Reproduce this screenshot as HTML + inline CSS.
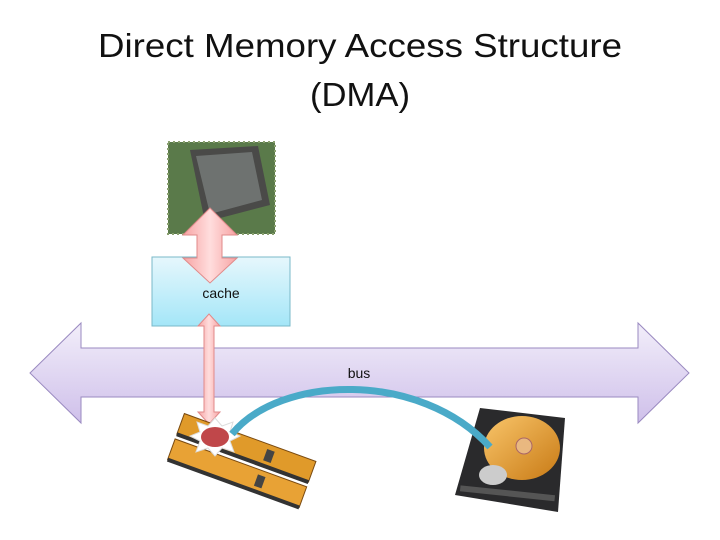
<!DOCTYPE html>
<html><head><meta charset="utf-8"><style>
html,body{margin:0;padding:0;background:#fff;}
svg{display:block;}
</style></head><body>
<svg width="720" height="540" viewBox="0 0 720 540" xmlns="http://www.w3.org/2000/svg">
<defs>
<linearGradient id="bus" x1="0" y1="0" x2="0" y2="1"><stop offset="0" stop-color="#f2eefa"/><stop offset="1" stop-color="#cfc0ea"/></linearGradient>
<linearGradient id="cache" x1="0" y1="0" x2="0" y2="1"><stop offset="0" stop-color="#e6f7fc"/><stop offset="1" stop-color="#a4e6f8"/></linearGradient>
<linearGradient id="red" x1="0" y1="0" x2="1" y2="0"><stop offset="0" stop-color="#f7a3a3"/><stop offset="0.5" stop-color="#fdd"/><stop offset="1" stop-color="#f7a3a3"/></linearGradient>
<linearGradient id="disk" x1="0" y1="0" x2="1" y2="1"><stop offset="0" stop-color="#f9c56a"/><stop offset="1" stop-color="#c87a15"/></linearGradient>
</defs>
<text x="98" y="57" font-family="Liberation Sans, sans-serif" font-size="33" textLength="524" lengthAdjust="spacingAndGlyphs" fill="#111">Direct Memory Access Structure</text>
<text x="310" y="106" font-family="Liberation Sans, sans-serif" font-size="33" textLength="100" lengthAdjust="spacingAndGlyphs" fill="#111">(DMA)</text>
<!-- CPU -->
<rect x="168" y="142" width="107" height="92" fill="#5a7a4a"/>
<rect x="168" y="142" width="107" height="92" fill="none" stroke="#8aa070" stroke-width="2" stroke-dasharray="2 3"/>
<polygon points="190,150 258,146 270,205 205,222" fill="#4a4a48"/>
<polygon points="196,156 252,152 262,200 210,214" fill="#6e7270"/>
<!-- cache -->
<rect x="152" y="257" width="138" height="69" fill="url(#cache)" stroke="#7ab8c8"/>
<text x="221" y="298" font-family="Liberation Sans, sans-serif" font-size="14" text-anchor="middle" fill="#111">cache</text>
<!-- big red double arrow -->
<polygon points="210,208 237,235 222,235 222,258 237,258 210,283 183,258 197,258 197,235 183,235" fill="url(#red)" stroke="#e08a8a"/>
<!-- bus -->
<polygon points="30,373 81,323 81,348 638,348 638,323 689,373 638,423 638,397 81,397 81,423" fill="url(#bus)" stroke="#9a8ac0"/>
<text x="359" y="378" font-family="Liberation Sans, sans-serif" font-size="14" text-anchor="middle" fill="#111">bus</text>
<!-- thin red double arrow -->
<polygon points="209,314 220,326 214,326 214,412 220,412 209,424 198,412 204,412 204,326 198,326" fill="url(#red)" stroke="#e08a8a"/>
<!-- memory sticks -->
<g transform="rotate(20 238 465)">
<rect x="170" y="435" width="140" height="22" fill="#e09a2a" stroke="#7a4a10"/>
<rect x="170" y="462" width="140" height="22" fill="#e8a235" stroke="#7a4a10"/>
<rect x="170" y="455" width="140" height="4" fill="#333"/>
<rect x="170" y="482" width="140" height="4" fill="#333"/>
<rect x="260" y="440" width="8" height="12" fill="#444"/>
<rect x="260" y="467" width="8" height="12" fill="#444"/>
</g>
<polygon points="215,418 222,426 233,422 230,432 240,436 230,441 234,452 222,448 215,456 208,448 196,452 200,441 190,436 200,432 197,422 208,426" fill="#fff" stroke="#ddd"/>
<ellipse cx="215" cy="437" rx="14" ry="10" fill="#c0474a"/>
<!-- HDD -->
<polygon points="480,408 565,418 558,512 455,495" fill="#2a2a2c"/>
<ellipse cx="522" cy="448" rx="38" ry="32" fill="url(#disk)"/>
<circle cx="524" cy="446" r="8" fill="#e9b880" stroke="#a66"/>
<ellipse cx="493" cy="475" rx="14" ry="10" fill="#ccc"/>
<rect x="460" y="490" width="95" height="6" fill="#555" transform="rotate(6 505 493)"/>
<!-- blue curve -->
<path d="M232,434 C280,375 420,370 490,447" fill="none" stroke="#4aaac8" stroke-width="7"/>
</svg>
</body></html>
